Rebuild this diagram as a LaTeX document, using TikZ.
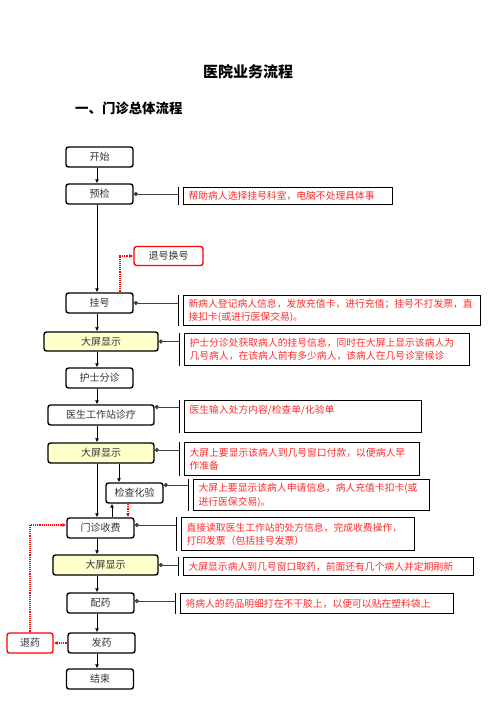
\documentclass[tikz,border=0pt]{standalone}
\usepackage{fontspec}
\setmainfont{Noto Sans CJK SC}
\usetikzlibrary{arrows.meta,calc}
\definecolor{NoteRed}{HTML}{FF2A2A}
\definecolor{ScreenYellow}{HTML}{FFFFCC}
\tikzset{
  stage/.style={draw=black, line width=1.4pt, rounded corners=2.5pt, fill=white, text=black!80,
    minimum width=67pt, minimum height=20pt, inner sep=0pt, font=\fontsize{10}{12}\selectfont},
  screen/.style={stage, fill=ScreenYellow},
  undo/.style={stage, draw=red},
  note/.style={draw=black, line width=1.1pt, anchor=north west, align=left, text=NoteRed,
    inner xsep=5pt, inner ysep=1pt, font=\fontsize{9.8}{13.5}\selectfont},
  wire/.style={-{Latex[length=4pt,width=4pt]}, line width=0.9pt},
  undowire/.style={wire, draw=red, densely dotted, line width=1.5pt},
  tie/.style={-{Diamond[length=4.5pt,width=4.5pt]}, line width=0.9pt, draw=black!75},
  bar/.style={line width=0.9pt}
}
\begin{document}
\begin{tikzpicture}[x=1pt, y=-1pt]
  \useasboundingbox (0,0) rectangle (496,702);
  \node[font=\fontsize{15}{18}\selectfont\bfseries] (title) at (248,72) {医院业务流程};
  \node[font=\fontsize{13.4}{16}\selectfont\bfseries, anchor=west, inner sep=0pt] (heading) at (75,108) {一、门诊总体流程};
  % main flow
  \node[stage] (start) at (99.5,157) {开始};
  \node[stage] (precheck) at (99.5,194) {预检};
  \node[stage] (register) at (99.5,303) {挂号};
  \node[screen, minimum width=114pt, minimum height=19pt] (screenA) at (101,341.5) {大屏显示};
  \node[stage] (triage) at (99.5,378) {护士分诊};
  \node[stage, minimum width=106pt] (doctor) at (101,415) {医生工作站诊疗};
  \node[screen, minimum width=106pt] (screenB) at (101,453) {大屏显示};
  \node[stage, minimum width=57pt] (lab) at (134.5,493) {检查化验};
  \node[stage] (cashier) at (100.5,528) {门诊收费};
  \node[screen, minimum width=105pt] (screenC) at (105.5,565) {大屏显示};
  \node[stage] (dispense) at (100.5,603) {配药};
  \node[stage] (deliver) at (101.5,643) {发药};
  \node[stage] (finish) at (100,679) {结束};
  \node[undo, minimum width=69pt, minimum height=19pt] (refund) at (168.5,256) {退号换号};
  \node[undo, minimum width=46pt] (returnmed) at (30,643) {退药};
  % notes
  \node[note, text width=199pt, minimum height=17pt] (n1) at (183,187) {帮助病人选择挂号科室，电脑不处理具体事};
  \node[note, text width=287pt, minimum height=30pt] (n2) at (183,295) {新病人登记病人信息，发放充值卡，进行充值；挂号不打发票，直\\接扣卡(或进行医保交易)。};
  \node[note, text width=275pt, minimum height=32pt] (n3) at (184,333) {护士分诊处获取病人的挂号信息，同时在大屏上显示该病人为\\几号病人，在该病人前有多少病人，该病人在几号诊室候诊};
  \node[note, text width=227pt, minimum height=32pt] (n4) at (184,400) {医生输入处方内容/检查单/化验单\\~};
  \node[note, text width=225pt, minimum height=33pt] (n5) at (184,442) {大屏上要显示该病人到几号窗口付款，以便病人早\\作准备};
  \node[note, text width=226pt, minimum height=31pt] (n6) at (193,479) {大屏上要显示该病人申请信息，病人充值卡扣卡(或\\进行医保交易)。};
  \node[note, text width=223pt, minimum height=33pt] (n7) at (181,517) {直接读取医生工作站的处方信息，完成收费操作，\\打印发票（包括挂号发票）};
  \node[note, text width=280pt, minimum height=18pt] (n8) at (183,557) {大屏显示病人到几号窗口取药，前面还有几个病人并定期刷新};
  \node[note, text width=263pt, minimum height=20pt] (n9) at (180,593) {将病人的药品明细打在不干胶上，以便可以贴在塑料袋上};
  % spine connectors
  \coordinate (spine) at (97,0);
  \coordinate (labin) at (119,0);
  \coordinate (labout) at (112,0);
  \coordinate (labback) at (128,0);
  \coordinate (refundx) at (120,0);
  \draw[wire] (start.south -| spine) -- (precheck.north -| spine);
  \draw[wire] (precheck.south -| spine) -- (register.north -| spine);
  \draw[wire] (register.south -| spine) -- (screenA.north -| spine);
  \draw[wire] (screenA.south -| spine) -- (triage.north -| spine);
  \draw[wire] (triage.south -| spine) -- (doctor.north -| spine);
  \draw[wire] (doctor.south -| spine) -- (screenB.north -| spine);
  \draw[wire] (screenB.south -| spine) -- (cashier.north -| spine);
  \draw[wire] (screenB.south -| labin) -- (lab.north -| labin);
  \draw[wire] (cashier.north -| labout) -- (lab.south -| labout);
  \draw[undowire] (lab.south -| labback) -- (cashier.north -| labback);
  \draw[wire] (cashier.south -| spine) -- (screenC.north -| spine);
  \draw[wire] (screenC.south -| spine) -- (dispense.north -| spine);
  \draw[wire] (dispense.south -| spine) -- (deliver.north -| spine);
  \draw[wire] (deliver.south -| spine) -- (finish.north -| spine);
  \draw[undowire] (register.north -| refundx) |- (refund.west);
  \draw[undowire] (deliver.west) -- (returnmed.east);
  \draw[undowire] (returnmed.north) |- ([yshift=3pt]cashier.west);
  % note bars and ties
  \foreach \n in {n1,n2,n3,n4,n5,n6,n7,n8,n9}
    \draw[bar] ([xshift=-5pt]\n.north west) -- ([xshift=-5pt]\n.south west);
  \draw[tie] ([xshift=-5pt]precheck.east -| n1.west) -- (precheck.east);
  \draw[tie] ([xshift=-5pt]register.east -| n2.west) -- (register.east);
  \draw[tie] ([xshift=-5pt]screenA.east -| n3.west) -- (screenA.east);
  \draw[tie] ([xshift=-5pt,yshift=8pt]doctor.east -| n4.west) -- ([yshift=8pt]doctor.east);
  \draw[tie] ([xshift=-5pt,yshift=3pt]screenB.east -| n5.west) -- ([yshift=3pt]screenB.east);
  \draw[tie] ([xshift=-5pt,yshift=8pt]lab.east -| n6.west) -- ([yshift=8pt]lab.east);
  \draw[tie] ([xshift=-5pt,yshift=3pt]cashier.east -| n7.west) -- ([yshift=3pt]cashier.east);
  \draw[tie] ([xshift=-5pt]screenC.east -| n8.west) -- (screenC.east);
  \draw[tie] ([xshift=-5pt,yshift=2pt]dispense.east -| n9.west) -- ([yshift=2pt]dispense.east);
\end{tikzpicture}
\end{document}
